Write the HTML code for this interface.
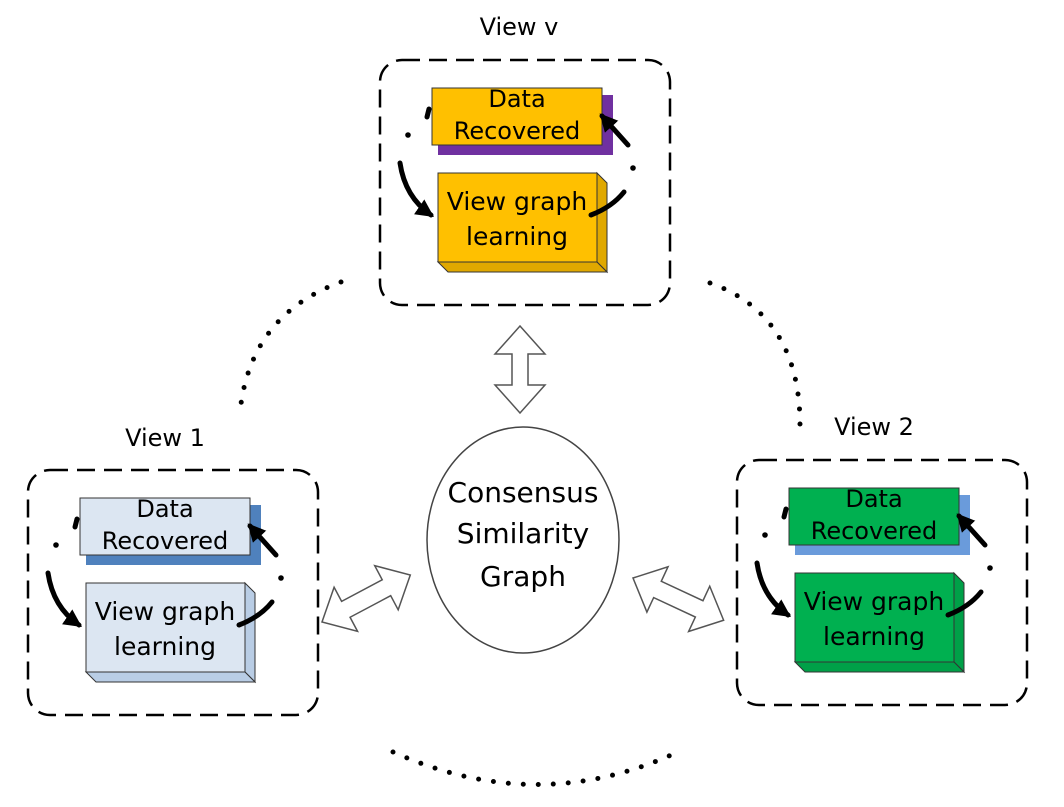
<!DOCTYPE html>
<html><head><style>
html,body{margin:0;padding:0;background:#fff;}
svg{display:block;}
text{font-family:"Comic Sans MS","DejaVu Sans","Liberation Sans",sans-serif;fill:#000;text-anchor:middle;}
</style></head><body>
<svg width="1064" height="807" viewBox="0 0 1064 807" xmlns="http://www.w3.org/2000/svg">
<defs>
<marker id="ah" viewBox="0 0 10 10" refX="8" refY="5" markerWidth="3.6" markerHeight="3.6" orient="auto">
<path d="M0,0 L10,5 L0,10 z" fill="#000"/>
</marker>
<g id="arcs">
<path d="M25,108 Q30,142 56,160" fill="none" stroke="#000" stroke-width="5" stroke-linecap="round" marker-end="url(#ah)"/>
<path d="M54,54 L52,62" stroke="#000" stroke-width="5" stroke-linecap="round"/>
<circle cx="33" cy="80" r="2.8" fill="#000"/>
<circle cx="258" cy="113" r="2.8" fill="#000"/>
<path d="M249,137 Q237,152 216,160" fill="none" stroke="#000" stroke-width="5" stroke-linecap="round"/>
<path d="M253,90 L227,61" fill="none" stroke="#000" stroke-width="5" stroke-linecap="round" marker-end="url(#ah)"/>
<rect x="5" y="5" width="290" height="245" rx="22" fill="none" stroke="#000" stroke-width="2.5" stroke-dasharray="18 9"/>
</g>
</defs>

<text x="519" y="35" font-size="24">View v</text>
<g transform="translate(375,55)">
<rect x="63" y="40" width="175" height="60" fill="#7030A0"/>
<rect x="57" y="33" width="170" height="57" fill="#FFC000" stroke="#333" stroke-width="1"/>
<text x="142" y="52" font-size="24">Data</text>
<text x="142" y="84" font-size="24">Recovered</text>
<polygon points="222,118 232,128 232,217 222,207" fill="#E0A800" stroke="#333" stroke-width="1"/>
<polygon points="63,207 222,207 232,217 73,217" fill="#E0A800" stroke="#333" stroke-width="1"/>
<rect x="63" y="118" width="159" height="89" fill="#FFC000" stroke="#333" stroke-width="1"/>
<text x="142" y="155" font-size="25">View graph</text>
<text x="142" y="190" font-size="25">learning</text>
<use href="#arcs"/>
</g>

<text x="165" y="446" font-size="24">View 1</text>
<g transform="translate(23,465)">
<rect x="63" y="40" width="175" height="60" fill="#4F81BD"/>
<rect x="57" y="33" width="170" height="57" fill="#DCE6F2" stroke="#333" stroke-width="1"/>
<text x="142" y="52" font-size="24">Data</text>
<text x="142" y="84" font-size="24">Recovered</text>
<polygon points="222,118 232,128 232,217 222,207" fill="#B9CDE5" stroke="#333" stroke-width="1"/>
<polygon points="63,207 222,207 232,217 73,217" fill="#B9CDE5" stroke="#333" stroke-width="1"/>
<rect x="63" y="118" width="159" height="89" fill="#DCE6F2" stroke="#333" stroke-width="1"/>
<text x="142" y="155" font-size="25">View graph</text>
<text x="142" y="190" font-size="25">learning</text>
<use href="#arcs"/>
</g>

<text x="874" y="435" font-size="24">View 2</text>
<g transform="translate(732,455)">
<rect x="63" y="40" width="175" height="60" fill="#6A9BDB"/>
<rect x="57" y="33" width="170" height="57" fill="#00B050" stroke="#333" stroke-width="1"/>
<text x="142" y="52" font-size="24">Data</text>
<text x="142" y="84" font-size="24">Recovered</text>
<polygon points="222,118 232,128 232,217 222,207" fill="#00A048" stroke="#333" stroke-width="1"/>
<polygon points="63,207 222,207 232,217 73,217" fill="#00A048" stroke="#333" stroke-width="1"/>
<rect x="63" y="118" width="159" height="89" fill="#00B050" stroke="#333" stroke-width="1"/>
<text x="142" y="155" font-size="25">View graph</text>
<text x="142" y="190" font-size="25">learning</text>
<use href="#arcs"/>
</g>

<ellipse cx="523" cy="540" rx="96" ry="113" fill="#fff" stroke="#444" stroke-width="1.5"/>
<text x="523" y="502" font-size="28">Consensus</text>
<text x="523" y="543" font-size="28">Similarity</text>
<text x="523" y="586" font-size="28">Graph</text>

<g fill="#fff" stroke="#555" stroke-width="1.5" stroke-linejoin="miter">
<polygon transform="translate(520,326) rotate(90)" points="0,0 28,-25 28,-8 59,-8 59,-25 87,0 59,25 59,8 28,8 28,25"/>
<polygon transform="translate(322,622) rotate(-28)" points="0,0 27,-25 27,-9 73,-9 73,-25 100,0 73,25 73,9 27,9 27,25"/>
<polygon transform="translate(633,578) rotate(25)" points="0,0 27,-25 27,-9 73,-9 73,-25 100,0 73,25 73,9 27,9 27,25"/>
</g>

<g fill="none" stroke="#000" stroke-width="5" stroke-linecap="round" stroke-dasharray="0 15">
<path d="M341,282 Q250,315 240,412"/>
<path d="M710,283 Q800,315 800,425"/>
<path d="M393,752 Q540,818 682,750"/>
</g>
</svg>
</body></html>
